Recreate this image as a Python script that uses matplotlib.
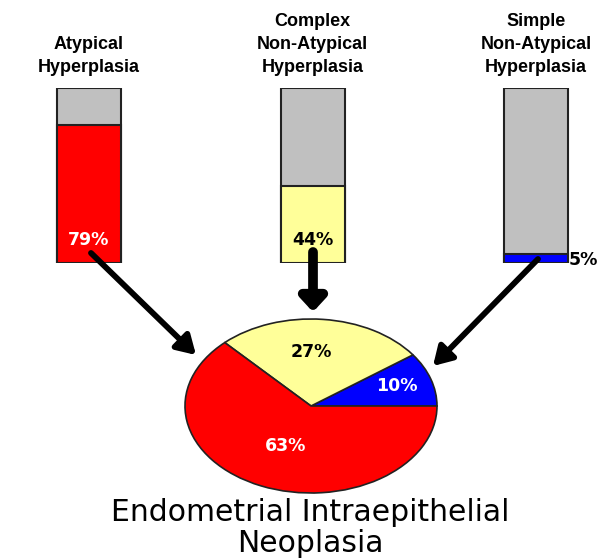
import matplotlib
matplotlib.use("Agg")
import matplotlib.pyplot as plt

# bar data: share of cases progressing (percent)
bar_labels = ["Atypical\nHyperplasia",
              "Complex\nNon-Atypical\nHyperplasia",
              "Simple\nNon-Atypical\nHyperplasia"]
bar_values = [79, 44, 5]
bar_colors = ["#FF0000", "#FFFF99", "#0000FF"]
bar_text_colors = ["white", "black", "black"]

# pie data: composition of EIN
pie_values = [10, 27, 63]
pie_colors = ["#0000FF", "#FFFF99", "#FF0000"]
pie_text_colors = ["white", "black", "white"]

title = "Endometrial Intraepithelial\nNeoplasia"

W, H = 615, 559
fig = plt.figure(figsize=(W / 100, H / 100), dpi=100)
fig.patch.set_facecolor("white")
plt.rcParams['font.family'] = ['Liberation Sans', 'DejaVu Sans']
pct_font = dict(family="DejaVu Sans", fontweight="bold", fontsize=12.5)


def px_axes(x0, y0, x1, y1):
    # axes placed by pixel box (top-left origin)
    return fig.add_axes([x0 / W, 1 - y1 / H, (x1 - x0) / W, (y1 - y0) / H])


# bars
unit = 223.5
xa = -89 / unit
bax = px_axes(0, 88, W, 263)
bax.set_xlim(xa, xa + W / unit)
bax.set_ylim(0, 100)
bax.axis("off")
xs = range(len(bar_values))
bw = 64 / unit
bax.bar(xs, [100] * 3, width=bw, color="#C0C0C0", edgecolor="#222222", lw=1.5)
bax.bar(xs, bar_values, width=bw, color=bar_colors, edgecolor="#222222", lw=1.5)
for i, v in enumerate(bar_values):
    if v > 20:
        bax.text(i, 13, f"{v}%", ha="center", va="center",
                 color=bar_text_colors[i], **pct_font)
    else:
        bax.text(i + bw / 2 + 0.005, v / 2 - 1, f"{v}%", ha="left", va="center",
                 color=bar_text_colors[i], **pct_font)
    bax.text(i, 107, bar_labels[i], ha="center", va="bottom", fontsize=13,
             fontweight="bold", linespacing=1.45, clip_on=False)

# pie (drawn into a stretched box so it looks elliptical)
pax = px_axes(185, 319, 437, 493)
wedges, _ = pax.pie(pie_values, colors=pie_colors, startangle=0, counterclock=True,
                    wedgeprops=dict(edgecolor="#222222", lw=1.2))
pax.set_aspect("auto")
pax.set_xlim(-1, 1)
pax.set_ylim(-1, 1)
pax.axis("off")
label_pos = [(0.68, 0.23), (0.0, 0.62), (-0.2, -0.46)]
for (lx, ly), v, c in zip(label_pos, pie_values, pie_text_colors):
    pax.text(lx, ly, f"{v}%", ha="center", va="center", color=c, **pct_font)

# overlay for arrows and title, pixel coordinates
oax = fig.add_axes([0, 0, 1, 1])
oax.set_xlim(0, W)
oax.set_ylim(H, 0)
oax.axis("off")
oax.patch.set_alpha(0)
diag = "-|>,head_length=0.55,head_width=0.33"
arrows = [((91, 253), (196, 355), diag, 4.2),
          ((313, 252), (313, 312), "-|>,head_length=0.4,head_width=0.37", 7),
          ((538, 259), (433, 366), diag, 4.2)]
for start, end, style, lw in arrows:
    oax.annotate("", xy=end, xytext=start,
                 arrowprops=dict(arrowstyle=style, lw=lw, color="black",
                                 mutation_scale=20, shrinkA=0, shrinkB=0))
oax.text(310, 528, title, ha="center", va="center", fontsize=21.5,
         family="DejaVu Sans", linespacing=1.05)

fig.savefig("out.png", dpi=100, facecolor="white")
